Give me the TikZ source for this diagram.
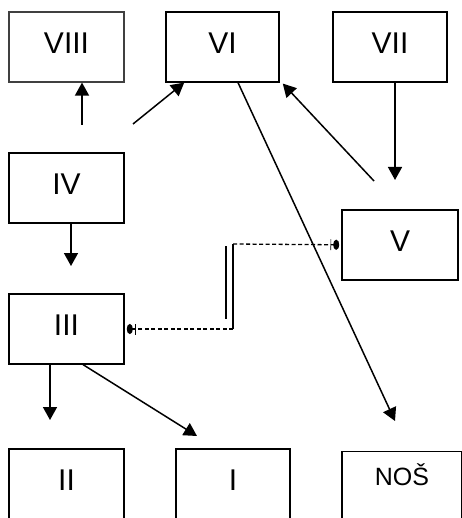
\documentclass[tikz,border=0pt]{standalone}
\usepackage{fontspec}
\setmainfont{Liberation Sans}
\usetikzlibrary{arrows.meta}

\tikzset{
	box/.style={draw, line width=1.6pt, rectangle, inner sep=0pt, minimum width=115pt,
		text height=42pt, text depth=28pt, font=\fontsize{30}{36}\selectfont},
	lowbox/.style={box, text depth=36pt},
	arr/.style={line width=1.5pt, -{Triangle[length=13pt,width=14pt]}},
	link/.style={line width=1.3pt, dash pattern=on 4pt off 2.5pt,
		-{Bar[width=11pt,line width=.7pt,sep=2pt]Circle[length=6pt,width=10pt,sep=2pt]}}
}

\begin{document}
\begin{tikzpicture}[x=1pt, y=-1pt]
		\useasboundingbox (0,0) rectangle (461,518);

		% upper row
		\node[box, draw=black!75] (viii) at (66.5,11) [anchor=north] {VIII};
		\node[box, minimum width=113pt] (vi) at (222.5,11) [anchor=north] {VI};
		\node[box, minimum width=114pt] (vii) at (390,11) [anchor=north] {VII};

		\node[box] (iv) at (66.5,152) [anchor=north] {IV};
		\node[box, minimum width=116pt] (v) at (400,209) [anchor=north] {V};
		\node[box] (iii) at (66.5,293) [anchor=north] {III};

		% lower row
		\node[lowbox] (ii) at (66.5,448) [anchor=north] {II};
		\node[lowbox, minimum width=114pt] (i) at (233,448) [anchor=north] {I};
		\node[lowbox, line width=1.2pt, minimum width=120pt, text height=34pt, text depth=44pt,
			font=\fontsize{25}{30}\selectfont] (nos) at (402,451) [anchor=north] {NOŠ};

		\coordinate (s8) at (82,125);
		\coordinate (s6) at (133,124);
		\coordinate (s5) at (374,181);
		\coordinate (e7) at (395,180);
		\coordinate (e4) at (71,266);
		\coordinate (e2) at (50,420);
		\coordinate (e1) at (197,436);
		\coordinate (en) at (395,421);

		\draw[arr] (s8) -- (s8 |- viii.south);
		\draw[arr] (s6) -- ([xshift=19pt]vi.south west);
		\draw[arr] (s5) -- ([xshift=3pt,yshift=-1pt]vi.south east);
		\draw[arr] ([xshift=15.5pt]vi.south) -- (en);
		\draw[arr] (e7 |- vii.south) -- (e7);
		\draw[arr] (e4 |- iv.south) -- (e4);
		\draw[arr] (e2 |- iii.south) -- (e2);
		\draw[arr] ([xshift=16.5pt]iii.south) -- (e1);

		% dashed link between III and V
		\coordinate (k1) at (233,244);
		\coordinate (k2) at (233,329);
		\draw[link] (k1) -- (v.west);
		\draw[link] (k2) -- (k2 -| iii.east);
		\draw[line width=1.3pt] (k1) -- (k2);
		\draw[line width=1.3pt] (226,246) -- (226,319);
\end{tikzpicture}
\end{document}
